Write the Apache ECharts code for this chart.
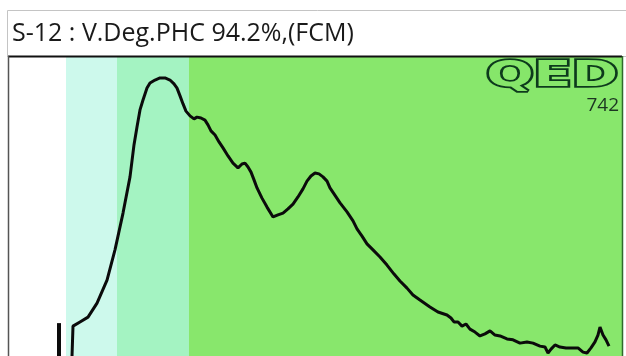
<!DOCTYPE html>
<html><head><meta charset="utf-8">
<script src="https://cdn.jsdelivr.net/npm/echarts@6/dist/echarts.min.js"></script>
<style>html,body{margin:0;padding:0;background:#fff}#c{width:626px;height:356px}</style>
</head><body><div id="c"></div>
<script>
// Chart text
const titleText = 'S-12 : V.Deg.PHC 94.2%,(FCM)';
const logoText = 'QED';
const countText = '742';
// Spectrum (x: relative position 0-100 across the plot, y: relative intensity 0-100)
const specX = [10.28,10.44,11.58,12.89,14.36,15.99,17.29,18.60,19.74,20.39,20.88,21.37,21.86,22.51,23.00,23.82,24.63,25.45,26.26,26.92,27.41,27.90,28.39,28.87,29.53,30.18,30.67,31.32,31.97,32.46,32.95,33.61,34.26,34.91,35.73,36.54,37.36,38.01,38.50,38.99,39.48,39.97,40.46,41.27,42.09,43.07,43.88,44.70,45.51,46.33,47.14,47.96,48.61,49.26,49.92,50.57,51.22,51.88,52.36,53.02,54.00,55.14,56.12,56.77,57.59,58.40,59.38,60.52,61.66,62.81,63.78,64.93,65.90,67.04,68.67,69.98,71.45,72.10,72.59,73.25,73.90,74.55,75.20,76.02,76.83,77.65,78.47,79.28,80.10,81.24,82.22,83.36,84.50,85.48,86.62,87.44,87.93,88.42,89.07,89.88,90.86,92.00,92.82,93.64,94.29,94.94,95.59,96.08,96.41,96.90,97.39,97.88];
const specY = [0,10.0,11.4,13.0,17.7,25.4,35.5,47.8,59.9,70.6,76.6,82.3,85.6,89.6,91.3,92.3,93.0,93.0,92.3,91.0,89.6,87.0,84.3,81.9,80.3,79.3,79.9,79.6,78.9,77.3,75.3,73.9,71.6,69.6,66.9,64.5,62.9,64.2,64.5,63.2,61.5,58.9,56.2,52.8,49.8,46.5,47.2,47.8,49.2,50.8,53.2,55.9,58.5,60.2,61.2,60.9,59.9,58.5,56.2,54.2,51.2,48.2,45.2,42.5,40.1,37.5,35.5,33.1,30.4,27.4,25.1,22.7,20.4,18.7,16.4,14.7,13.7,12.7,11.4,11.4,10.0,10.7,9.0,8.0,6.7,7.4,8.4,7.0,6.7,5.7,5.4,4.3,4.7,4.3,3.3,3.0,1.0,2.3,3.7,3.0,2.7,2.7,2.7,1.3,1.0,2.7,4.7,7.0,9.7,7.0,5.4,3.3];
// Marker spike
const spikeX = [8.16, 8.16];
const spikeY = [0, 11.0];
// Background bands [start, end]
const bandCyan = [9.30, 17.62];
const bandMint = [17.62, 29.36];
const bandGreen = [29.36, 100];

const chart = echarts.init(document.getElementById('c'), null, {renderer: 'canvas'});
const spec = specX.map((x, i) => [x, specY[i]]);
const spike = spikeX.map((x, i) => [x, spikeY[i]]);
chart.setOption({
  animation: false,
  backgroundColor: '#fff',
  grid: {left: 9, right: 4, top: 57, bottom: 0, show: true, backgroundColor: '#fff', borderWidth: 0},
  xAxis: {type: 'value', min: 0, max: 100, show: false},
  yAxis: {type: 'value', min: 0, max: 100, show: false},
  graphic: [
    {type: 'rect', shape: {x: 7.5, y: 10.5, width: 625, height: 46}, style: {fill: '#fff', stroke: '#c4c4c4', lineWidth: 1}, z: 1},
    {type: 'text', x: 12, y: 34, style: {text: titleText, font: '25px "Open Sans"', fill: '#1a1a1a', textVerticalAlign: 'middle'}, z: 5},
    {type: 'line', shape: {x1: 8, y1: 56.5, x2: 622, y2: 56.5}, style: {stroke: '#111', lineWidth: 2}, z: 20},
    {type: 'line', shape: {x1: 8.5, y1: 56, x2: 8.5, y2: 356}, style: {stroke: '#555', lineWidth: 1.5}, z: 20},
    {type: 'line', shape: {x1: 622.5, y1: 56, x2: 622.5, y2: 356}, style: {stroke: '#2f6a2a', lineWidth: 1.5}, z: 20},
    {type: 'text', x: 618, y: 77, scaleX: 1.55, style: {text: logoText, font: 'bold 36px "DejaVu Sans"', fill: '#86e66a', stroke: '#0d3a1c', lineWidth: 3.5, textAlign: 'right', textVerticalAlign: 'middle'}, z: 20},
    {type: 'text', x: 619, y: 106, style: {text: countText, font: '19px "Open Sans"', fill: '#1c3522', textAlign: 'right', textVerticalAlign: 'middle'}, z: 20}
  ],
  series: [
    {
      type: 'line', data: spec, showSymbol: false, symbol: 'none',
      lineStyle: {color: '#0b0b0b', width: 3}, z: 10,
      markArea: {
        silent: true,
        data: [
          [{xAxis: bandCyan[0], itemStyle: {color: '#cdf9ec'}}, {xAxis: bandCyan[1]}],
          [{xAxis: bandMint[0], itemStyle: {color: '#a4f3c2'}}, {xAxis: bandMint[1]}],
          [{xAxis: bandGreen[0], itemStyle: {color: '#88e76c'}}, {xAxis: bandGreen[1]}]
        ]
      }
    },
    {
      type: 'line', data: spike, showSymbol: false, symbol: 'none',
      lineStyle: {color: '#0b0b0b', width: 4}, z: 10
    }
  ]
});
</script></body></html>
